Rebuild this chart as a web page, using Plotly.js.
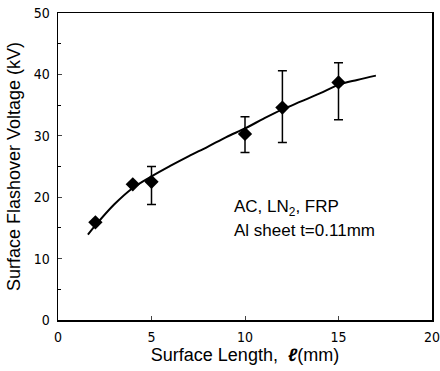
<!DOCTYPE html>
<html><head><meta charset="utf-8">
<script src="https://cdn.plot.ly/plotly-3.0.1.min.js"></script>
<style>html,body{margin:0;padding:0;background:#fff;}#chart{width:440px;height:371px;}</style>
</head><body><div id="chart"></div>
<script>
var lengths = [2, 4, 5, 10, 12, 15];
var voltages = [15.9, 22.1, 22.5, 30.3, 34.6, 38.7];
var errPlus = [0, 0, 2.5, 2.8, 6.0, 3.2];
var errMinus = [0, 0, 3.7, 3.0, 5.7, 6.1];
var fitX = [1.6, 2, 3, 4, 5, 6, 7, 8, 9, 10, 11, 12, 13, 14, 15, 16, 17];
var fitY = [13.9, 15.4, 18.8, 21.5, 23.4, 25.1, 26.7, 28.2, 29.8, 31.2, 32.8, 34.3, 35.6, 36.9, 38.3, 39.1, 39.8];
var xTicks = [0, 5, 10, 15, 20];
var yTicks = [0, 10, 20, 30, 40, 50];
var noteLines = ['AC, LN<sub>2</sub>, FRP', 'Al sheet t=0.11mm'];

var narrow = 'Liberation Sans Narrow, DejaVu Sans Condensed, Arial Narrow, Liberation Sans, Arial, sans-serif';
var sans = 'Liberation Sans, Arial, Helvetica, sans-serif';
var traces = [
  {x: fitX, y: fitY, mode: 'lines', line: {color: '#000', width: 2, shape: 'spline'}, hoverinfo: 'skip'},
  {x: lengths, y: voltages, mode: 'markers', type: 'scatter',
   marker: {symbol: 'diamond', size: 11, color: '#000'},
   error_y: {type: 'data', symmetric: false, array: errPlus, arrayminus: errMinus, color: '#000', thickness: 1.5, width: 4.5}}
];
var layout = {
  width: 440, height: 371, showlegend: false,
  paper_bgcolor: '#fff', plot_bgcolor: '#fff',
  margin: {l: 58, r: 8, t: 13, b: 51},
  font: {family: sans, color: '#000', size: 12},
  xaxis: {range: [0, 20], tickvals: xTicks, ticktext: xTicks.map(String), ticks: 'inside', ticklen: 4,
    showline: true, linecolor: '#000', linewidth: 1.5, mirror: true, showgrid: false, zeroline: false,
    tickfont: {size: 14, family: narrow}, ticklabelstandoff: 4, ticklabeloverflow: 'allow',
    title: {text: 'Surface Length,  <b><i>ℓ</i></b>(mm)', font: {size: 18, family: sans}, standoff: 2}},
  yaxis: {range: [0, 50], tickvals: yTicks, ticktext: yTicks.map(String), ticks: 'inside', ticklen: 4,
    minor: {dtick: 5, ticks: 'inside', ticklen: 3, tickcolor: '#000'},
    showline: true, linecolor: '#000', linewidth: 1.5, mirror: true, showgrid: false, zeroline: false,
    tickfont: {size: 14, family: narrow}, ticklabelstandoff: 4, ticklabeloverflow: 'allow',
    title: {text: 'Surface Flashover Voltage (kV)', font: {size: 18, family: sans}, standoff: 8}},
  annotations: [
    {x: 9.3, y: 18.2, xref: 'x', yref: 'y', xanchor: 'left', text: noteLines[0], showarrow: false, font: {size: 17, family: sans}},
    {x: 9.3, y: 14.5, xref: 'x', yref: 'y', xanchor: 'left', text: noteLines[1], showarrow: false, font: {size: 17, family: sans}}
  ]
};
Plotly.newPlot('chart', traces, layout, {displayModeBar: false, staticPlot: true});
</script></body></html>
